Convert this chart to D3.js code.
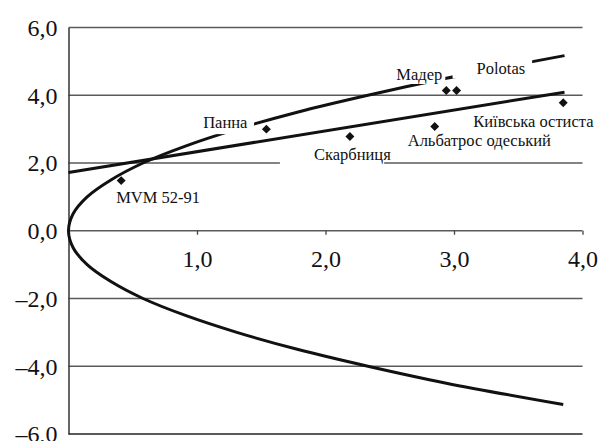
<!DOCTYPE html>
<html>
<head>
<meta charset="utf-8">
<script src="https://cdn.jsdelivr.net/npm/d3@7"></script>
<style>
  body { margin: 0; background: #fff; }
  svg { display: block; }
  svg text { font-family: "Liberation Serif", "Times New Roman", serif; }
</style>
</head>
<body>
<div id="chart"></div>
<script>
// varieties and their coordinates
const varieties = ["MVM 52-91", "Панна", "Скарбниця", "Альбатрос одеський", "Мадер", "Polotas", "Київська остиста"];
const xValues = [0.41, 1.54, 2.19, 2.85, 2.94, 3.02, 3.85];
const yValues = [1.48, 3.0, 2.78, 3.08, 4.14, 4.14, 3.78];

// linear trend
const trendX = [0, 3.86];
const trendY = [1.72, 4.09];

// sideways parabola, read point by point
const curveY = [-5.13, -4.5, -4.0, -3.5, -3.0, -2.5, -2.0, -1.5, -1.0, -0.5, 0, 0.5, 1.0, 1.5, 2.0, 2.5, 3.0, 3.5, 4.0, 4.5, 5.17];
const curveX = [3.85, 2.94, 2.33, 1.78, 1.31, 0.91, 0.58, 0.33, 0.145, 0.036, 0, 0.036, 0.145, 0.33, 0.58, 0.91, 1.31, 1.78, 2.33, 2.94, 3.86];

const xTicks = [1, 2, 3, 4];
const yTicks = [-6, -4, -2, 0, 2, 4, 6];

const W = 601, H = 441;
const margin = { top: 27.5, right: 18.5, bottom: 7, left: 68.5 };
const font = "Liberation Serif";

const svg = d3
  .select("#chart")
  .append("svg")
  .attr("width", W)
  .attr("height", H);

const x = d3.scaleLinear().domain([0, 4]).range([margin.left, W - margin.right]);
const y = d3.scaleLinear().domain([-6, 6]).range([H - margin.bottom, margin.top]);

const fmt = (v) => d3.format(".1f")(v).replace(".", ",").replace("-", "\u2013").replace("\u2212", "\u2013");

// grid lines
svg
  .append("g")
  .selectAll("line")
  .data(yTicks)
  .enter()
  .append("line")
  .attr("x1", x(0))
  .attr("x2", x(4))
  .attr("y1", (d) => y(d))
  .attr("y2", (d) => y(d))
  .attr("stroke", "#5a5a5a")
  .attr("stroke-width", (d) => (d === -6 ? 2 : 1.3));

// y axis
const yAxis = svg
  .append("g")
  .attr("transform", "translate(" + x(0) + ",0)")
  .call(d3.axisLeft(y).tickValues(yTicks).tickSize(0).tickSizeOuter(0).tickPadding(11).tickFormat(fmt));
yAxis.attr("font-family", null);
yAxis.select(".domain").attr("stroke", "#333").attr("stroke-width", 1.5);
yAxis
  .selectAll("text")
  .attr("dy", "0.33em")
  .attr("font-family", font)
  .style("font-size", "24px")
  .style("fill", "#111");

// x axis at zero
const xAxis = svg
  .append("g")
  .attr("transform", "translate(0," + y(0) + ")")
  .call(d3.axisBottom(x).tickValues(xTicks).tickSize(4).tickSizeOuter(0).tickPadding(15).tickFormat(fmt));
xAxis.attr("font-family", null);
xAxis.select(".domain").remove();
xAxis.selectAll("line").attr("stroke", "#444").attr("stroke-width", 1.3);
xAxis
  .selectAll("text")
  .attr("font-family", font)
  .style("font-size", "24px")
  .style("fill", "#111");

// trend line
svg
  .append("path")
  .datum(d3.zip(trendX, trendY))
  .attr("fill", "none")
  .attr("stroke", "#111")
  .attr("stroke-width", 3)
  .attr(
    "d",
    d3
      .line()
      .x((d) => x(d[0]))
      .y((d) => y(d[1]))
  );

// parabola
svg
  .append("path")
  .datum(d3.zip(curveX, curveY))
  .attr("fill", "none")
  .attr("stroke", "#111")
  .attr("stroke-width", 3)
  .attr(
    "d",
    d3
      .line()
      .curve(d3.curveCatmullRom)
      .x((d) => x(d[0]))
      .y((d) => y(d[1]))
  );

// label placement: offset from the point, anchor, white box padding [l, r, t, b]
const labelLayout = {
  "MVM 52-91": { dx: -5, dy: 22, anchor: "start", pad: [1, 1, 1, 1] },
  "Панна": { dx: -19, dy: -1, anchor: "end", pad: [2, 6, 3, 2] },
  "Скарбниця": { dx: -36, dy: 23, anchor: "start", pad: [34, -7, 1, 1] },
  "Альбатрос одеський": { dx: -27, dy: 20, anchor: "start", pad: [1, 1, 1, 1] },
  "Мадер": { dx: -4, dy: -11, anchor: "end", pad: [1, 3, 2, 0.5] },
  "Polotas": { dx: 20, dy: -17, anchor: "start", pad: [24, 7, 2, 1] },
  "Київська остиста": { dx: -90, dy: 24, anchor: "start", pad: [1, 1, 1, 1] },
};

const labels = svg.append("g");
varieties.forEach(function (name, i) {
  const lay = labelLayout[name];
  const g = labels.append("g");
  const box = g.append("rect").attr("fill", "#fff");
  const t = g
    .append("text")
    .attr("x", x(xValues[i]) + lay.dx)
    .attr("y", y(yValues[i]) + lay.dy)
    .attr("text-anchor", lay.anchor)
    .attr("font-family", font)
    .style("font-size", "16.5px")
    .style("fill", "#111")
    .text(name);
  const bb = t.node().getBBox();
  box
    .attr("x", bb.x - lay.pad[0])
    .attr("y", bb.y - lay.pad[2])
    .attr("width", bb.width + lay.pad[0] + lay.pad[1])
    .attr("height", bb.height + lay.pad[2] + lay.pad[3]);
});

// diamonds
svg
  .append("g")
  .selectAll("path")
  .data(varieties)
  .enter()
  .append("path")
  .attr("d", d3.symbol(d3.symbolSquare, 40))
  .attr("transform", (d, i) => "translate(" + x(xValues[i]) + "," + y(yValues[i]) + ") rotate(45)")
  .attr("fill", "#111");
</script>
</body>
</html>
